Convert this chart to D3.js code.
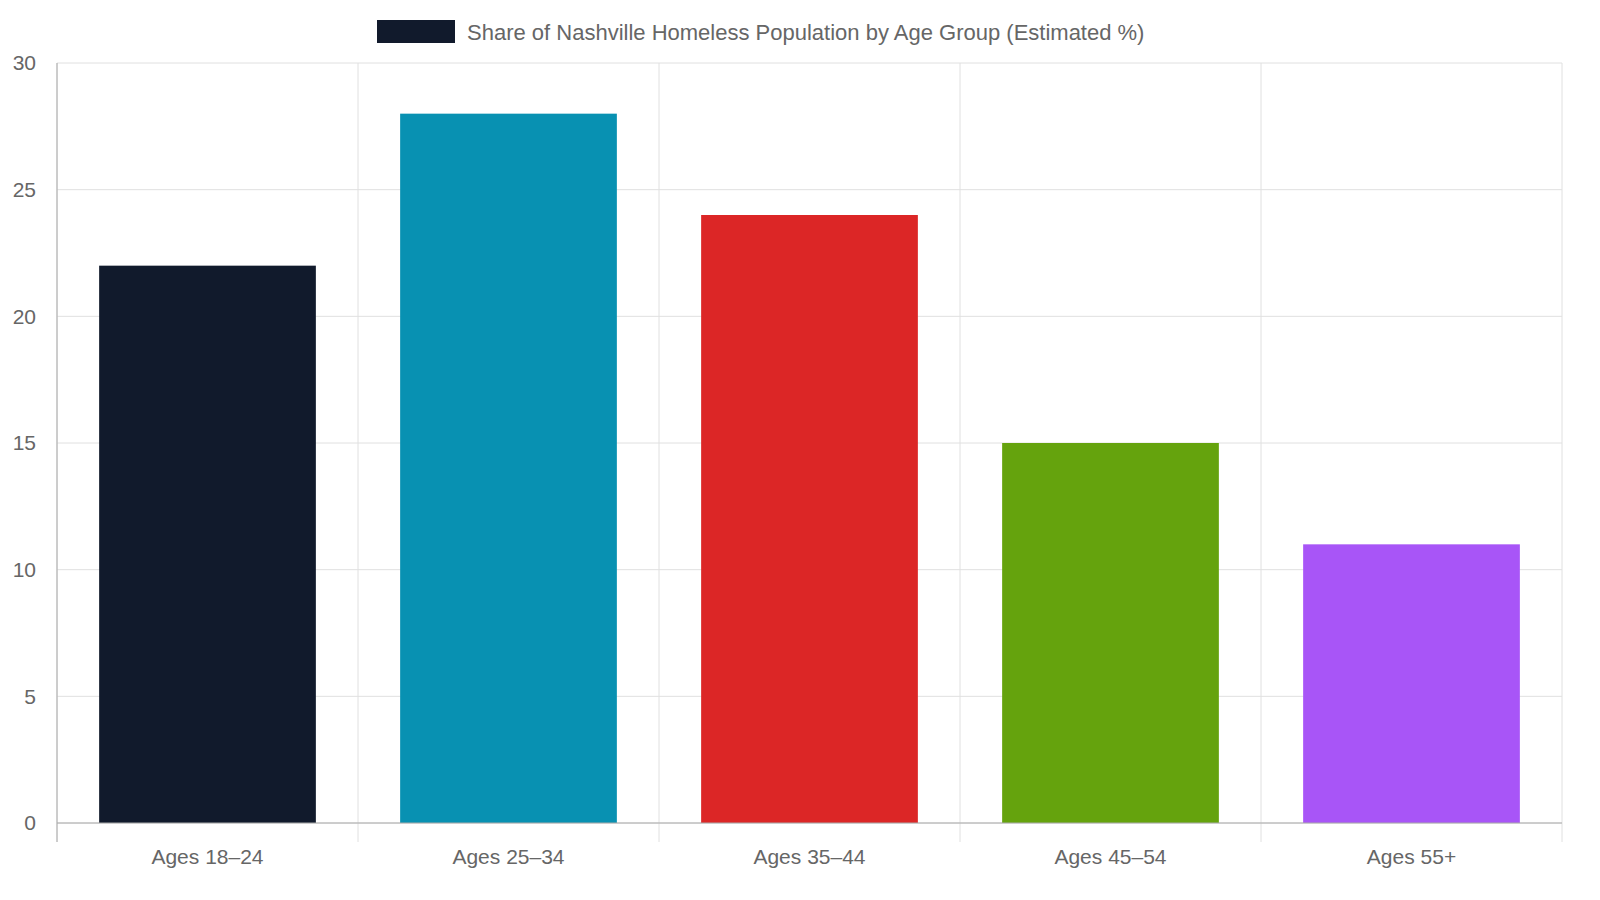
<!DOCTYPE html>
<html><head><meta charset="utf-8">
<script src="https://cdn.jsdelivr.net/npm/d3@7"></script>
<style>body{margin:0;background:#fff}svg{font-family:"Liberation Sans",Arial,sans-serif}</style>
</head><body><svg id="chart" width="1600" height="900"></svg>
<script>
const categories = ["Ages 18–24", "Ages 25–34", "Ages 35–44", "Ages 45–54", "Ages 55+"];
const shares = [22, 28, 24, 15, 11];
const colors = ["#111a2c", "#0891b2", "#dc2626", "#65a30d", "#a855f7"];
const yTicks = [0, 5, 10, 15, 20, 25, 30];
const seriesName = "Share of Nashville Homeless Population by Age Group (Estimated %)";

const svg = d3.select("#chart");
const plotL = 57, plotR = 1562, plotT = 63, plotB = 823;

const x = d3.scaleBand().domain(categories).range([plotL, plotR]);
const y = d3.scaleLinear().domain([0, 30]).range([plotB, plotT]);

// grid
svg.append("g").selectAll("line").data(yTicks).enter().append("line")
  .attr("x1", plotL).attr("x2", plotR)
  .attr("y1", d => y(d)).attr("y2", d => y(d))
  .attr("stroke", "#e0e0e0");
svg.append("g").selectAll("line").data(d3.range(categories.length + 1)).enter().append("line")
  .attr("x1", i => plotL + i * x.bandwidth()).attr("x2", i => plotL + i * x.bandwidth())
  .attr("y1", plotT).attr("y2", plotB + 19)
  .attr("stroke", "#e0e0e0");

// bars
const barW = x.bandwidth() * 0.72;
svg.append("g").selectAll("rect").data(shares).enter().append("rect")
  .attr("x", (d, i) => x(categories[i]) + (x.bandwidth() - barW) / 2)
  .attr("y", d => y(d))
  .attr("width", barW)
  .attr("height", d => plotB - y(d))
  .attr("fill", (d, i) => colors[i]);

// axes lines
svg.append("line").attr("x1", plotL).attr("x2", plotL).attr("y1", plotT).attr("y2", plotB + 19).attr("stroke", "#aaa");
svg.append("line").attr("x1", plotL).attr("x2", plotR).attr("y1", plotB).attr("y2", plotB).attr("stroke", "#aaa");

// tick labels
svg.append("g").selectAll("text").data(yTicks).enter().append("text")
  .attr("x", 36).attr("y", d => y(d)).attr("dy", "0.35em")
  .attr("text-anchor", "end").attr("font-size", 21).attr("fill", "#666")
  .text(d => d);
svg.append("g").selectAll("text").data(categories).enter().append("text")
  .attr("x", d => x(d) + x.bandwidth() / 2).attr("y", 857).attr("dy", "0.35em")
  .attr("text-anchor", "middle").attr("font-size", 21).attr("fill", "#666")
  .text(d => d);

// legend
svg.append("rect").attr("x", 377).attr("y", 20).attr("width", 78).attr("height", 23).attr("fill", colors[0]);
svg.append("text").attr("x", 467).attr("y", 32).attr("dy", "0.35em")
  .attr("font-size", 22).attr("fill", "#666").text(seriesName);
</script></body></html>
